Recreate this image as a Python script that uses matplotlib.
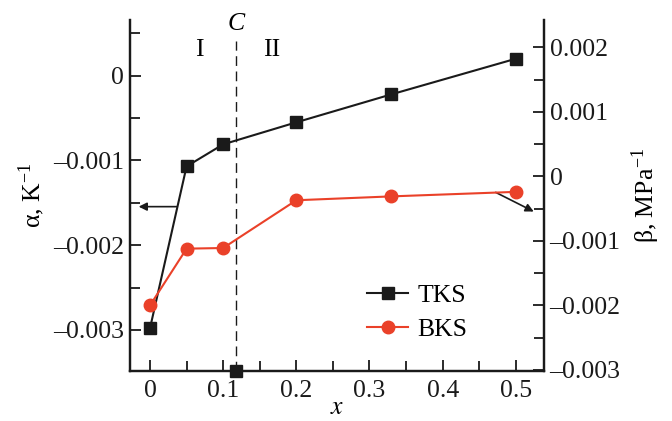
import matplotlib
matplotlib.use("Agg")
import matplotlib.pyplot as plt
from matplotlib.ticker import MultipleLocator, FuncFormatter

plt.rcParams['font.family'] = ['Liberation Serif', 'DejaVu Serif']
plt.rcParams['mathtext.fontset'] = 'stix'
plt.rcParams['axes.unicode_minus'] = True

# data
x = [0, 0.05, 0.1, 0.2, 0.33, 0.5]
tks = [-0.00298, -0.00107, -0.00081, -0.00055, -0.00022, 0.00020]
bks = [-0.00200, -0.00112, -0.00111, -0.00037, -0.00031, -0.00024]
x_c = 0.1175
x_ticks = [0, 0.1, 0.2, 0.3, 0.4, 0.5]
alpha_ticks = [-0.003, -0.002, -0.001, 0]
beta_ticks = [-0.003, -0.002, -0.001, 0, 0.001, 0.002]

red = '#ea4129'
fs = 18.5

fig = plt.figure(figsize=(6.72, 4.21), dpi=100)
ax = fig.add_axes([129.5/672, 1-370.5/421, (544-129.5)/672, 350.5/421])
ax2 = ax.twinx()

def fmt(v, pos=None):
    if abs(v) < 1e-12:
        return '0'
    s = f'{abs(v):.3f}'
    return ('\u2013' if v < 0 else '') + s

def fmtx(v, pos=None):
    if abs(v) < 1e-12:
        return '0'
    return f'{v:.1f}'

l1, = ax.plot(x, tks, '-s', color='#1a1a1a', lw=1.5, ms=8.5, zorder=5, label='TKS')
l2, = ax2.plot(x, bks, '-o', color=red, lw=1.5, ms=9, zorder=5, label='BKS')
ax.plot([x_c], [-0.003478], 's', color='#1a1a1a', ms=8.5, clip_on=False, zorder=6)

ax.set_xlim(-0.028, 0.5385)
ax.set_ylim(-0.003478, 0.000657)
ax2.set_ylim(-0.003008, 0.002423)

ax.set_xticks(x_ticks)
ax.xaxis.set_minor_locator(MultipleLocator(0.05))
ax.set_yticks(alpha_ticks)
ax.yaxis.set_minor_locator(MultipleLocator(0.0005))
ax2.set_yticks(beta_ticks)
ax2.yaxis.set_minor_locator(MultipleLocator(0.0005))
ax.xaxis.set_major_formatter(FuncFormatter(fmtx))
ax.yaxis.set_major_formatter(FuncFormatter(fmt))
ax2.yaxis.set_major_formatter(FuncFormatter(fmt))

for a in (ax, ax2):
    a.spines['top'].set_visible(False)
    for s in a.spines.values():
        s.set_linewidth(1.6)
        s.set_color('#1a1a1a')
    a.tick_params(which='both', direction='in', width=1.3, color='#1a1a1a', labelsize=fs, labelcolor='#1a1a1a')
    a.tick_params(which='major', length=8)
    a.tick_params(which='minor', length=7)
ax.tick_params(axis='x', pad=7)
ax.tick_params(axis='y', pad=4)
ax2.tick_params(axis='y', pad=4)

ax.set_xlabel('$x$', fontsize=fs, labelpad=-4)
ax.set_ylabel('α, K$^{\\mathregular{-1}}$', fontsize=fs, labelpad=4)
ax2.set_ylabel('β, MPa$^{\\mathregular{-1}}$', fontsize=fs, labelpad=6)

# vertical dashed line at C
ax.plot([x_c, x_c], [-0.003478, 0.00041], color='#1a1a1a', lw=1.0, ls=(0, (7, 4)), zorder=3)
ax.text(x_c, 0.99, 'C', transform=ax.get_xaxis_transform(), ha='center', va='center',
        fontsize=fs, style='italic')
ax.text(0.068, 0.914, 'I', transform=ax.get_xaxis_transform(), ha='center', va='center', fontsize=fs)
ax.text(0.166, 0.914, 'II', transform=ax.get_xaxis_transform(), ha='center', va='center', fontsize=fs)

# arrows
ax.annotate('', xy=(-0.0155, -0.001545), xytext=(0.0365, -0.001545),
            arrowprops=dict(arrowstyle='-|>', color='#1a1a1a', lw=1.2, mutation_scale=12,
                            shrinkA=0, shrinkB=0))
ax2.annotate('', xy=(0.5245, -0.000545), xytext=(0.4725, -0.000248),
             arrowprops=dict(arrowstyle='-|>', color='#1a1a1a', lw=1.2, mutation_scale=12,
                             shrinkA=0, shrinkB=0))

leg = ax.legend([l1, l2], ['TKS', 'BKS'], loc='center left',
                bbox_to_anchor=(0.573, 0.165), frameon=False, fontsize=fs,
                handlelength=1.6, handletextpad=0.35, labelspacing=0.45,
                borderaxespad=0, borderpad=0)

fig.savefig('out.png', dpi=100)
